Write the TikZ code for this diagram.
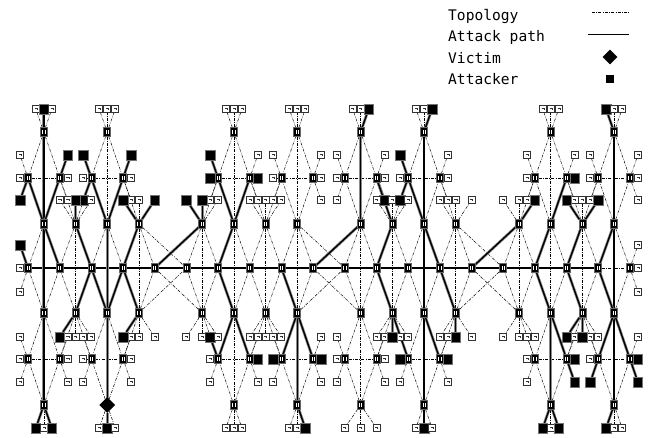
\documentclass[tikz,border=0pt]{standalone}
\usepackage{fontspec}
\newfontfamily\legfont{DejaVu Sans Mono}
\usetikzlibrary{shapes.geometric}
\pgfdeclarelayer{topo}
\pgfdeclarelayer{atk}
\pgfsetlayers{topo,atk,main}
\makeatletter
\def\atklist{,TtM0,TtR10,TtR12,TtL18,MtU1,MtU2,MtU3,MtU6,MtU12,MtS6,MtS7,MtS17,MtD0,MtD2,MtD11,MtD12,AtM1,AtL3,AtR3,AtL5,AtM5,AtR15,AtL17,AtR17,BU0,TbL0,TbR0,TbM2,TbR8,TbM12,TbL16,TbR16,TbL18,MbD6,AbL1,AbL3,AbM11,AbM13,AbL17,AbM17,MbS7,MbS8,MbS9,MbS12,MbS13,MbS17,MbS19,MbU17,MbU18,MbU19,}
\newcommand\mkleaf[4]{%
  \edef\lf@tmp{\noexpand\in@{,#1,}{\atklist}}\lf@tmp
  \ifin@
    \node[attacker] (#1) at (#2,#3) {};
    \begin{pgfonlayer}{atk}\draw[atkline] (#4) -- (#1);\end{pgfonlayer}%
  \else
    \node[leaf] (#1) at (#2,#3) {};
    \begin{pgfonlayer}{topo}\draw[topo] (#4) -- (#1);\end{pgfonlayer}%
  \fi}
\makeatother
\tikzset{
 router/.style={rectangle, fill=black, draw=black!60, line width=0.6pt, minimum width=7pt, minimum height=8.5pt, inner sep=0pt,
   path picture={\fill[white] ([xshift=-1.5pt,yshift=-1.6pt]path picture bounding box.center) rectangle ++(0.8pt,3.2pt);
                 \fill[white] ([xshift=0.7pt,yshift=-1.6pt]path picture bounding box.center) rectangle ++(0.8pt,3.2pt);}},
 leaf/.style={rectangle, fill=white, draw=black!80, line width=0.9pt, minimum size=7pt, inner sep=0pt,
   path picture={\draw[line width=0.5pt] ([xshift=-1.2pt,yshift=1.1pt]path picture bounding box.center) -- ++(2.3pt,0) -- ++(0,-2.3pt);}},
 attacker/.style={rectangle, fill=black, draw=black!55, line width=0.5pt, minimum size=9.5pt, inner sep=0pt},
 victim/.style={diamond, fill=black, minimum size=16pt, inner sep=0pt, aspect=1},
 topo/.style={draw=black, line width=0.5pt, dash pattern=on 3pt off 1.3pt on 0.8pt off 1.3pt},
 atkline/.style={draw=black, line width=1.4pt, preaction={draw=black!45, line width=2.8pt}},
 legtext/.style={anchor=base west, inner sep=0pt, font={\legfont\fontsize{14.6}{17}\selectfont}},
}
\begin{document}
\begin{tikzpicture}[x=1pt,y=-1pt]
\path[use as bounding box] (0,0) rectangle (652,437);

% ---------- routers ----------
\foreach \i in {0,...,19}{
  \pgfmathsetmacro\xx{28+31.68*\i}
  \node[router] (B\i) at (\xx,268) {};
}
\foreach \i in {0,1,2,3,6,7,8,9,10,11,12,13,16,17,18,19}{
  \pgfmathsetmacro\xx{28+31.68*\i}
  \node[router] (Mt\i) at (\xx,178) {};
  \node[router] (Mb\i) at (\xx,359) {};
}
\foreach \k in {0,1,2,3,5,6,7,8,10,11,12,13,15,16,17,18}{
  \pgfmathsetmacro\xx{43.84+31.68*\k}
  \node[router] (At\k) at (\xx,224) {};
  \node[router] (Ab\k) at (\xx,313) {};
}
\foreach \k in {0,2,6,8,10,12,16,18}{
  \pgfmathsetmacro\xx{43.84+31.68*\k}
  \node[router] (Tt\k) at (\xx,132) {};
  \ifnum\k=2 \node[victim] (Tb\k) at (\xx,405) {};\else \node[router] (Tb\k) at (\xx,405) {};\fi
}

% ---------- leaves ----------
\foreach \i in {0,1,2,3,6,7,8,9,10,11,12,13,16,17,18,19}{
  \pgfmathsetmacro\lx{28+31.68*\i+8*(2*mod(\i,2)-1)}
  \mkleaf{MtU\i}{\lx}{155}{Mt\i}
  \mkleaf{MtS\i}{\lx}{178}{Mt\i}
  \mkleaf{MtD\i}{\lx}{200}{Mt\i}
  \mkleaf{MbU\i}{\lx}{382}{Mb\i}
  \mkleaf{MbS\i}{\lx}{359}{Mb\i}
  \mkleaf{MbD\i}{\lx}{337}{Mb\i}
}
\foreach \k in {1,3,5,7,11,13,15,17}{
  \pgfmathsetmacro\xx{43.84+31.68*\k}
  \pgfmathsetmacro\xl{\xx-15.84}
  \pgfmathsetmacro\xr{\xx+15.84}
  \mkleaf{AtL\k}{\xl}{200}{At\k}
  \mkleaf{AtM\k}{\xx}{200}{At\k}
  \mkleaf{AtR\k}{\xr}{200}{At\k}
  \mkleaf{AbL\k}{\xl}{337}{Ab\k}
  \mkleaf{AbM\k}{\xx}{337}{Ab\k}
  \mkleaf{AbR\k}{\xr}{337}{Ab\k}
}
\foreach \k in {0,2,6,8,10,12,16,18}{
  \pgfmathsetmacro\xx{43.84+31.68*\k}
  \pgfmathsetmacro\tl{\xx-8}
  \pgfmathsetmacro\tr{\xx+8}
  \pgfmathsetmacro\sp{\k==10 ? 16 : 8}
  \pgfmathsetmacro\bl{\xx-\sp}
  \pgfmathsetmacro\br{\xx+\sp}
  \mkleaf{TtL\k}{\tl}{109}{Tt\k}
  \mkleaf{TtM\k}{\xx}{109}{Tt\k}
  \mkleaf{TtR\k}{\tr}{109}{Tt\k}
  \mkleaf{TbL\k}{\bl}{428}{Tb\k}
  \mkleaf{TbM\k}{\xx}{428}{Tb\k}
  \mkleaf{TbR\k}{\br}{428}{Tb\k}
}
\mkleaf{BU0}{20}{245}{B0}
\mkleaf{BS0}{20}{268}{B0}
\mkleaf{BD0}{20}{292}{B0}
\mkleaf{BU19}{638}{245}{B19}
\mkleaf{BS19}{638}{268}{B19}
\mkleaf{BD19}{638}{292}{B19}

% ---------- topology links ----------
\begin{pgfonlayer}{topo}
\foreach \i [evaluate=\i as \j using int(\i+1)] in {0,...,18}{\draw[topo] (B\i) -- (B\j);}
\foreach \k [evaluate=\k as \j using int(\k+1)] in {0,1,2,3,5,6,7,8,10,11,12,13,15,16,17,18}{
  \draw[topo] (At\k) -- (B\k); \draw[topo] (At\k) -- (B\j);
  \draw[topo] (Ab\k) -- (B\k); \draw[topo] (Ab\k) -- (B\j);
  \draw[topo] (At\k) -- (Ab\k);
}
\foreach \a/\b in {3/5,5/4,8/10,10/9,13/15,15/14}{\draw[topo] (At\a) -- (B\b); \draw[topo] (Ab\a) -- (B\b);}
\foreach \k [evaluate=\k as \j using int(\k+1)] in {0,2,6,8,10,12,16,18}{
  \draw[topo] (Tt\k) -- (At\k); \draw[topo] (Ab\k) -- (Tb\k);
  \draw[topo] (Tt\k) -- (Mt\k); \draw[topo] (Tt\k) -- (Mt\j);
  \draw[topo] (Tb\k) -- (Mb\k); \draw[topo] (Tb\k) -- (Mb\j);
  \draw[topo] (Mt\k) -- (Mt\j); \draw[topo] (Mb\k) -- (Mb\j);
}
\foreach \a/\m in {0/0,0/1,1/1,1/2,2/2,2/3,3/3,5/6,6/6,6/7,7/7,7/8,8/8,8/9,10/10,10/11,11/11,11/12,12/12,12/13,13/13,15/16,16/16,16/17,17/17,17/18,18/18,18/19}{
  \draw[topo] (At\a) -- (Mt\m); \draw[topo] (Ab\a) -- (Mb\m);
}
\end{pgfonlayer}

% ---------- attack paths ----------
\begin{pgfonlayer}{atk}
\draw[atkline] (B0.center) -- (B18.center);
\foreach \a/\b in {Tt0/Tb0,Tt12/Tb12,Tt18/Tb18,Tt10/At10,At2/Tb2,Ab8/Tb8,Ab16/Tb16,
  Mt0/At0,At0/B1,Mt1/At0,Mt2/At2,Mt3/At2,At1/B2,B2/Ab2,At3/B3,B3/Ab2,At5/B4,
  Mt6/At6,At6/B6,B6/Ab6,Mb6/Ab6,Mt7/At6,At10/B9,Mt12/At12,Mt11/At11,At11/B11,
  At12/B13,At15/B14,Mt17/At16,At16/B16,At17/B17,At18/B18,Ab1/B2,Ab3/B3,Mb7/Ab6,
  B8/Ab8,Ab8/Mb9,Mb8/Ab8,B11/Ab11,Ab11/Mb12,B13/Ab13,Mb13/Ab12,B16/Ab16,Ab16/Mb17,
  B17/Ab17,Mb18/Ab18,B18/Ab18,Ab18/Mb19}{
  \draw[atkline] (\a.center) -- (\b.center);
}
\end{pgfonlayer}

% ---------- legend ----------
\node[legtext] (lg1) at (448,20) {Topology};
\node[legtext] (lg2) at (448,41.5) {Attack path};
\node[legtext] (lg3) at (448,63) {Victim};
\node[legtext] (lg4) at (448,84.5) {Attacker};
\coordinate (lt1) at (592,12);
\coordinate (lt2) at (629,12);
\draw[topo] (lt1) -- (lt2);
\coordinate (la1) at (588,34.5);
\coordinate (la2) at (629,34.5);
\draw[line width=1.2pt] (la1) -- (la2);
\node[victim, minimum size=15pt] (lv) at (610,57) {};
\node[rectangle, fill=black, minimum size=8pt, inner sep=0pt] (lat) at (610,79) {};
\end{tikzpicture}
\end{document}
